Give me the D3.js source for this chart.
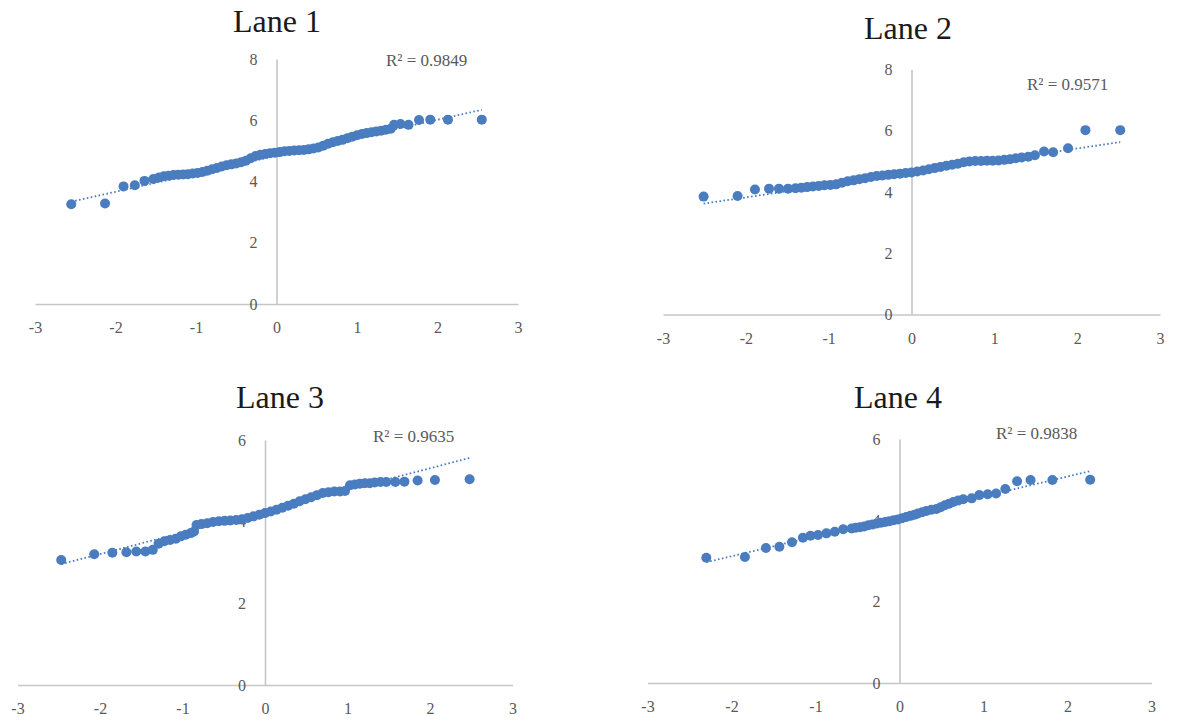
<!DOCTYPE html>
<html>
<head>
<meta charset="utf-8">
<script src="https://cdn.jsdelivr.net/npm/d3@7/dist/d3.min.js"></script>
<style>
  body { margin: 0; background: #fff; }
  .title { font-family: 'Liberation Serif', serif; font-size: 32px; fill: #1a1a1a; }
  .axis text { font-family: 'Liberation Serif', serif; font-size: 16px; fill: #595959; }
  .axis path { stroke: #c6c6c6; stroke-width: 1.6px; }
  .rsq { font-family: 'Liberation Serif', serif; font-size: 17px; fill: #595959; }
  .dot { fill: #4a7cc0; }
  .trend { stroke: #4a7cc0; stroke-width: 1.8px; stroke-dasharray: 1.6,2.4; fill: none; }
</style>
</head>
<body>
<div id="chart"></div>
<script>
var titles = ['Lane 1', 'Lane 2', 'Lane 3', 'Lane 4']
var rsqLabels = ['R² = 0.9849', 'R² = 0.9571', 'R² = 0.9635', 'R² = 0.9838']
var xTicks = [-3, -2, -1, 0, 1, 2, 3]
var yTicksTop = [0, 2, 4, 6, 8]
var yTicksBottom = [0, 2, 4, 6]

var lane1X = [-2.55, -2.13, -1.90, -1.76, -1.64, -1.53, -1.46, -1.40, -1.34, -1.28, -1.22, -1.16, -1.10, -1.04, -0.98,
  -0.92, -0.86, -0.80, -0.74, -0.68, -0.62, -0.56, -0.50, -0.44, -0.38, -0.32, -0.26, -0.20, -0.14, -0.08, -0.02,
  0.04, 0.10, 0.16, 0.22, 0.28, 0.34, 0.40, 0.46, 0.52, 0.58, 0.64, 0.70, 0.76, 0.82, 0.88, 0.94, 1.00, 1.06,
  1.12, 1.18, 1.24, 1.30, 1.36, 1.42, 1.46, 1.54, 1.64, 1.77, 1.91, 2.13, 2.55]
var lane1Y = [3.26, 3.28, 3.84, 3.88, 4.02, 4.08, 4.13, 4.17, 4.19, 4.21, 4.22, 4.23, 4.24, 4.26, 4.28,
  4.31, 4.35, 4.40, 4.44, 4.49, 4.53, 4.56, 4.59, 4.63, 4.68, 4.76, 4.83, 4.87, 4.90, 4.92, 4.94,
  4.96, 4.99, 5.00, 5.01, 5.02, 5.03, 5.05, 5.08, 5.11, 5.17, 5.23, 5.28, 5.32, 5.36, 5.41, 5.46, 5.51, 5.55,
  5.58, 5.61, 5.63, 5.66, 5.69, 5.72, 5.85, 5.88, 5.85, 6.01, 6.02, 6.02, 6.02]

var lane2X = [-2.51, -2.10, -1.89, -1.72, -1.60, -1.49, -1.40, -1.33, -1.26, -1.19, -1.12, -1.05, -0.98, -0.91,
  -0.84, -0.77, -0.70, -0.63, -0.56, -0.49, -0.42, -0.35, -0.28, -0.21, -0.14, -0.07, 0.00, 0.07, 0.14, 0.21,
  0.28, 0.35, 0.42, 0.49, 0.56, 0.63, 0.70, 0.77, 0.84, 0.91, 0.98, 1.05, 1.12, 1.19, 1.26, 1.33, 1.41, 1.49,
  1.60, 1.71, 1.89, 2.10, 2.52]
var lane2Y = [3.85, 3.87, 4.08, 4.11, 4.11, 4.11, 4.12, 4.14, 4.16, 4.18, 4.20, 4.22, 4.23, 4.25,
  4.30, 4.35, 4.38, 4.42, 4.45, 4.49, 4.52, 4.54, 4.56, 4.58, 4.60, 4.62, 4.64, 4.67, 4.70, 4.74,
  4.78, 4.82, 4.86, 4.89, 4.92, 4.97, 5.00, 5.01, 5.01, 5.02, 5.02, 5.03, 5.05, 5.07, 5.10, 5.13, 5.15, 5.20,
  5.32, 5.30, 5.43, 6.02, 6.02]

var lane3X = [-2.47, -2.07, -1.85, -1.68, -1.56, -1.45, -1.36, -1.29, -1.22, -1.15, -1.08, -1.02, -0.96, -0.90,
  -0.86, -0.83, -0.77, -0.70, -0.63, -0.56, -0.49, -0.42, -0.35, -0.28, -0.21, -0.14, -0.07, 0.00, 0.07, 0.14,
  0.21, 0.28, 0.35, 0.42, 0.49, 0.56, 0.63, 0.70, 0.77, 0.84, 0.91, 0.97, 1.03, 1.09, 1.15, 1.21, 1.27, 1.33,
  1.40, 1.47, 1.58, 1.69, 1.85, 2.06, 2.48]
var lane3Y = [3.06, 3.20, 3.24, 3.25, 3.27, 3.27, 3.31, 3.46, 3.52, 3.55, 3.58, 3.64, 3.68, 3.72,
  3.76, 3.92, 3.94, 3.96, 3.99, 4.01, 4.02, 4.03, 4.04, 4.06, 4.09, 4.13, 4.17, 4.21, 4.25, 4.29,
  4.34, 4.39, 4.44, 4.50, 4.55, 4.60, 4.65, 4.70, 4.72, 4.74, 4.74, 4.75, 4.89, 4.91, 4.93, 4.94, 4.94, 4.96,
  4.97, 4.97, 4.97, 4.98, 5.01, 5.02, 5.04]

var lane4X = [-2.30, -1.84, -1.59, -1.43, -1.28, -1.15, -1.06, -0.97, -0.87, -0.77, -0.67, -0.57, -0.52, -0.47,
  -0.42, -0.37, -0.32, -0.27, -0.22, -0.17, -0.12, -0.07, -0.02, 0.03, 0.08, 0.13, 0.18, 0.22, 0.27, 0.32,
  0.38, 0.44, 0.49, 0.54, 0.59, 0.64, 0.70, 0.76, 0.86, 0.95, 1.05, 1.15, 1.26, 1.40, 1.56, 1.82, 2.27]
var lane4Y = [3.08, 3.10, 3.32, 3.35, 3.46, 3.57, 3.62, 3.64, 3.68, 3.72, 3.78, 3.80, 3.82, 3.83,
  3.85, 3.88, 3.90, 3.92, 3.94, 3.96, 3.98, 4.00, 4.02, 4.05, 4.08, 4.11, 4.14, 4.17, 4.20, 4.23,
  4.26, 4.28, 4.32, 4.37, 4.41, 4.45, 4.49, 4.52, 4.54, 4.62, 4.64, 4.66, 4.77, 4.96, 4.99, 4.99, 5.00]

// linear trend line ends [x, y]
var trend1 = [[-2.55, 3.34], [2.55, 6.34]]
var trend2 = [[-2.51, 3.62], [2.52, 5.63]]
var trend3 = [[-2.47, 2.96], [2.48, 5.56]]
var trend4 = [[-2.30, 2.97], [2.27, 5.21]]

var svg;

function DrawPanel(p) {
    var xScale = d3.scaleLinear().domain([-3, 3]).range([p.left, p.right]);
    var yScale = d3.scaleLinear().domain([0, p.yMax]).range([p.bottom, p.top]);

    var g = svg.append('g').attr('class', 'panel');

    g.append('text')
        .attr('class', 'title')
        .attr('x', p.titleX)
        .attr('y', p.titleY)
        .attr('text-anchor', 'middle')
        .text(p.title);

    // plain hyphen for negatives, like the original
    var xAxis = d3.axisBottom(xScale).tickValues(xTicks).tickSize(0).tickPadding(18)
        .tickFormat(function(d) { return String(d); });
    g.append('g')
        .attr('class', 'x axis')
        .attr('transform', 'translate(0,' + yScale(0) + ')')
        .call(xAxis);

    var yAxis = d3.axisLeft(yScale).tickValues(p.yTicks).tickSize(0).tickPadding(19)
        .tickFormat(function(d) { return String(d); });
    g.append('g')
        .attr('class', 'y axis')
        .attr('transform', 'translate(' + xScale(0) + ',0)')
        .call(yAxis);

    g.selectAll('.axis').attr('font-family', null).attr('font-size', null);

    g.append('line')
        .attr('class', 'trend')
        .attr('x1', xScale(p.trend[0][0]))
        .attr('y1', yScale(p.trend[0][1]))
        .attr('x2', xScale(p.trend[1][0]))
        .attr('y2', yScale(p.trend[1][1]));

    g.append('g').selectAll('.dot')
        .data(d3.zip(p.xs, p.ys))
        .enter()
        .append('circle')
        .attr('class', 'dot')
        .attr('cx', function(d) { return xScale(d[0]); })
        .attr('cy', function(d) { return yScale(d[1]); })
        .attr('r', 5);

    g.append('text')
        .attr('class', 'rsq')
        .attr('x', p.rsqX)
        .attr('y', p.rsqY)
        .text(p.rsq);
}

function DrawChart() {
    svg = d3.select('#chart').append('svg')
        .attr('width', 1178)
        .attr('height', 724);

    var panels = [
        {title: titles[0], rsq: rsqLabels[0], xs: lane1X, ys: lane1Y, trend: trend1, yMax: 8, yTicks: yTicksTop,
         left: 35, right: 518, bottom: 304, top: 59, titleX: 277, titleY: 32, rsqX: 386, rsqY: 66},
        {title: titles[1], rsq: rsqLabels[1], xs: lane2X, ys: lane2Y, trend: trend2, yMax: 8, yTicks: yTicksTop,
         left: 663, right: 1160, bottom: 314.5, top: 69.5, titleX: 908, titleY: 39, rsqX: 1027, rsqY: 90},
        {title: titles[2], rsq: rsqLabels[2], xs: lane3X, ys: lane3Y, trend: trend3, yMax: 6, yTicks: yTicksBottom,
         left: 17.5, right: 512.5, bottom: 685, top: 440, titleX: 280, titleY: 408, rsqX: 373, rsqY: 442},
        {title: titles[3], rsq: rsqLabels[3], xs: lane4X, ys: lane4Y, trend: trend4, yMax: 6, yTicks: yTicksBottom,
         left: 647.5, right: 1151.5, bottom: 683, top: 439, titleX: 898, titleY: 408, rsqX: 996, rsqY: 439}
    ];

    panels.forEach(DrawPanel);
}

DrawChart();
</script>
</body>
</html>
